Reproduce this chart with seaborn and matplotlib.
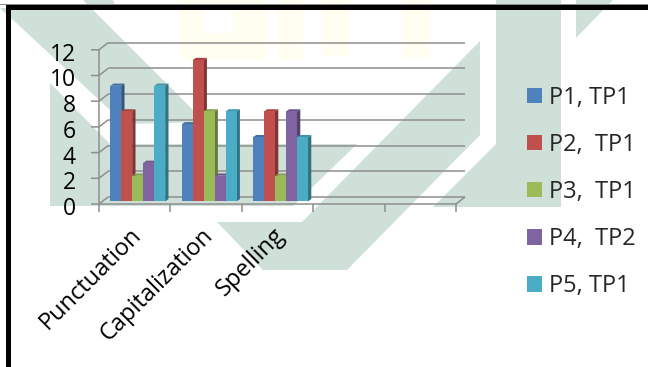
import math
import matplotlib
matplotlib.use("Agg")
import matplotlib.pyplot as plt
from matplotlib.patches import Polygon, Rectangle
from matplotlib.transforms import Affine2D
from matplotlib.colors import to_rgb
import pandas as pd
import seaborn as sns

# Scores per writing aspect, one list per participant
categories = ["Punctuation", "Capitalization", "Spelling"]
empty_slots = [" ", "  "]
series_names = ["P1, TP1", "P2,  TP1", "P3,  TP1", "P4,  TP2", "P5, TP1"]
p1_tp1 = [9, 6, 5]
p2_tp1 = [7, 11, 7]
p3_tp1 = [2, 7, 2]
p4_tp2 = [3, 2, 7]
p5_tp1 = [9, 7, 5]
palette = ["#4f81bd", "#c0504d", "#9bbb59", "#8064a2", "#4bacc6"]
y_ticks = [0, 2, 4, 6, 8, 10, 12]

W, H = 648, 367
sns.set_theme(style="white")
plt.rcParams["font.family"] = ["Open Sans", "DejaVu Sans"]
plt.rcParams["axes.facecolor"] = "none"

rows = []
for name, vals in zip(series_names, [p1_tp1, p2_tp1, p3_tp1, p4_tp2, p5_tp1]):
    for cat, v in zip(categories, vals):
        rows.append({"aspect": cat, "score": v, "series": name})
df = pd.DataFrame(rows)

fig = plt.figure(figsize=(W / 100, H / 100), dpi=100, facecolor="white")
to_px = Affine2D().scale(1, -1).translate(0, H)

# Faded backdrop shapes behind the plot, given in pixels from the top left
WASH = "#cfe0d8"
CREAM = "#fffef0"
wash_shapes = [
    [(11, 10), (93, 10), (205, 122), (125, 124), (11, 18)],
    [(50, 83), (110, 144), (357, 144), (293, 206), (50, 206)],
    [(480, 41), (480, 135), (347, 270), (263, 270), (217, 222), (302, 222)],
    [(496, 0), (561, 0), (561, 207), (433, 207), (496, 144)],
    [(576, 0), (576, 38), (613, 0)],
    [(83, 0), (113, 0), (115, 5), (88, 5)],
    [(0, 8), (6, 8), (6, 14)],
]
cream_shapes = [
    [(180, 0), (267, 0), (267, 60), (180, 60)],
    [(277, 0), (303, 0), (303, 60), (277, 60)],
    [(322, 0), (348, 0), (348, 56), (322, 56)],
    [(403, 0), (430, 0), (430, 57), (403, 57)],
]
for pts in cream_shapes:
    fig.add_artist(Polygon(pts, closed=True, fc=CREAM, ec="none", transform=to_px, zorder=-3))
fig.add_artist(Rectangle((203, 10), 30, 23, fc="white", ec="none", transform=to_px, zorder=-2.5))
for pts in wash_shapes:
    fig.add_artist(Polygon(pts, closed=True, fc=WASH, ec="none", transform=to_px, zorder=-2))

# Heavy frame along the top and left edges
fig.add_artist(Rectangle((0, 4), W, 1.2, fc="#8a8a8a", ec="none", transform=to_px, zorder=5))
fig.add_artist(Rectangle((6, 5), W - 6, 5, fc="black", ec="none", transform=to_px, zorder=6))
fig.add_artist(Rectangle((6, 5), 5, H - 5, fc="black", ec="none", transform=to_px, zorder=6))

# Plot plane: the bars stand here, between the front and back planes of the box
X_STEP, Y_STEP = 71.4, 12.85
ax = fig.add_axes([102 / W, (H - 201.4) / H, 5 * X_STEP / W, 12 * Y_STEP / H])
sns.barplot(
    data=df, x="aspect", y="score", hue="series",
    order=categories + empty_slots, hue_order=series_names,
    palette=palette, width=0.77, gap=0, saturation=1, errorbar=None,
    edgecolor="none", linewidth=0, ax=ax,
)
ax.set_xlim(-0.5, 4.5)
ax.set_ylim(0, 12)
ax.set_xlabel("")
ax.set_ylabel("")
sns.despine(ax=ax, left=True, bottom=True)

xu, yu = 1 / X_STEP, 1 / Y_STEP
GRID = "#8e8e8e"
LW = 1.1
fx, fy = -3 * xu, -2.6 * yu
bx, by = 6 * xu, 4.4 * yu


def frame_line(xs, ys):
    ax.plot(xs, ys, color=GRID, lw=LW, clip_on=False, zorder=1, solid_capstyle="butt")


for t in y_ticks:
    frame_line([-0.5 + bx, 4.5 + bx], [t + by, t + by])
    frame_line([-0.5 + fx - 8 * xu, -0.5 + fx, -0.5 + bx], [t + fy, t + fy, t + by])
frame_line([-0.5 + fx, -0.5 + fx], [fy, 12 + fy])
frame_line([-0.5 + fx, 4.5 + fx, 4.5 + bx], [fy, fy, by])
for k in range(6):
    tx = -0.5 + k + fx
    frame_line([tx, tx], [fy, fy - 7.5 * yu])

# Extruded side and top faces for each bar
depth_x, depth_y = 3.3 * xu, 2.2 * yu
for i, container in enumerate(ax.containers):
    base = to_rgb(palette[i])
    side = tuple(c * 0.66 for c in base)
    top = tuple(c * 0.85 for c in base)
    for bar in container:
        h = bar.get_height()
        if h is None or math.isnan(h) or h == 0:
            continue
        x0, x1 = bar.get_x(), bar.get_x() + bar.get_width()
        bar.set_zorder(10 + 2 * i)
        ax.add_patch(Polygon(
            [(x1, 0), (x1 + depth_x, depth_y), (x1 + depth_x, h + depth_y), (x1, h)],
            closed=True, fc=side, ec="none", zorder=9 + 2 * i, clip_on=False))
        ax.add_patch(Polygon(
            [(x0, h), (x0 + depth_x, h + depth_y), (x1 + depth_x, h + depth_y), (x1, h)],
            closed=True, fc=top, ec="none", zorder=9 + 2 * i, clip_on=False))

# Tick labels
ax.set_yticks(y_ticks)
ax.set_yticklabels([str(t) for t in y_ticks], fontsize=16.5, color="black")
ax.tick_params(axis="y", length=0, pad=19)
ax.tick_params(axis="x", length=0, pad=0)
for lab in ax.get_yticklabels():
    lab.set_transform(lab.get_transform() + Affine2D().translate(0, -4.6))
ax.set_xticks(range(5))
ax.set_xticklabels(categories + empty_slots, fontsize=17, color="black",
                   rotation=45, ha="right", rotation_mode="anchor")
for lab in ax.get_xticklabels():
    lab.set_transform(lab.get_transform() + Affine2D().translate(-8, -22))

# Legend on the right
ax.legend(
    loc="upper left", bbox_to_anchor=(522.5 / W, (H - 81) / H), bbox_transform=fig.transFigure,
    frameon=False, fontsize=17, handlelength=0.63, handleheight=0.63, handletextpad=0.3,
    labelspacing=0.98, borderpad=0.2, borderaxespad=0,
)

fig.savefig("out.png", dpi=100, facecolor="white")
